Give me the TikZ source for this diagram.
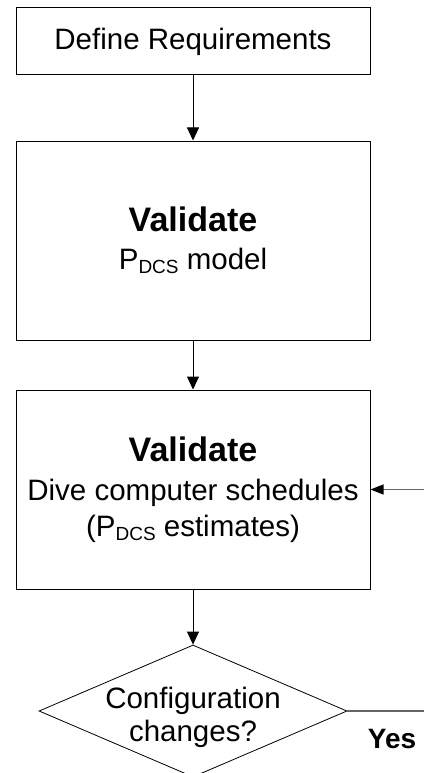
\documentclass[tikz,border=0pt]{standalone}
\usepackage{fontspec}
\setmainfont{Liberation Sans}
\usetikzlibrary{arrows.meta,shapes.geometric}
\newcommand{\dcs}{P\raisebox{-4pt}{\fontsize{19}{19}\selectfont DCS}}
\begin{document}
\begin{tikzpicture}[x=1pt,y=1pt,
  stepbox/.style={draw=black,line width=1pt,minimum width=354pt,inner sep=0pt,align=center,
    font=\fontsize{29.5}{36}\selectfont},
  flow/.style={draw=black,line width=1pt,-{Triangle[width=12pt,length=13pt]}},
  side/.style={draw=black!60,line width=1.1pt}]
\useasboundingbox (0,0) rectangle (424,-773);
\node[stepbox,minimum height=67pt] (req) at (193,-41.5) {Define Requirements};
\node[stepbox,minimum height=199pt] (model) at (193,-240.5)
  {{\fontsize{34}{38}\selectfont\bfseries Validate}\\[2pt] \dcs{} model};
\node[stepbox,minimum height=199pt] (sched) at (193,-489.5)
  {{\fontsize{34}{38}\selectfont\bfseries Validate}\\[3pt] Dive computer schedules\\[0pt] (\dcs{} estimates)};
\node[diamond,draw=black,line width=0.8pt,minimum width=308pt,minimum height=132pt,aspect=2.33,inner sep=0pt] (dia) at (193,-711) {};
\node[align=center,inner sep=0pt,font=\fontsize{29.5}{33}\selectfont] (diatxt) at (193,-717) {Configuration\\changes?};
\node[font=\fontsize{28}{30}\selectfont\bfseries,inner sep=0pt] (yes) at (392,-739) {Yes};
\coordinate (r1) at (424,-711);
\coordinate (r2) at (424,-489.5);
\draw[flow] (req) -- (model);
\draw[flow] (model) -- (sched);
\draw[flow] (sched) -- (dia.north);
\draw[side] (dia.east) -- (r1);
\draw[side,-{Triangle[width=10pt,length=13pt,color=black,fill=black]}] (r2) -- (sched.east);
\end{tikzpicture}
\end{document}
